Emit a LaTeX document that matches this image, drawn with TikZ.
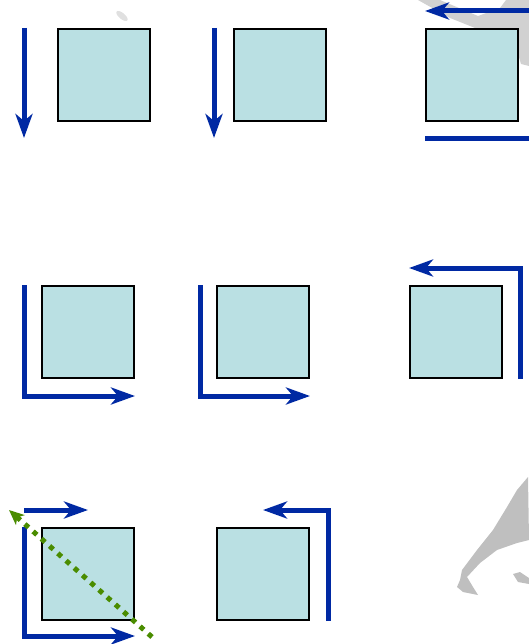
\documentclass[tikz,border=0pt]{standalone}
\usepackage{xcolor}
\usetikzlibrary{arrows.meta,positioning}

\definecolor{cellfill}{HTML}{BAE0E3}
\definecolor{flowblue}{HTML}{0029A3}
\definecolor{diaggreen}{HTML}{4A8C00}

\begin{document}
\begin{tikzpicture}[
        x=1pt, y=-1pt,
        cell/.style={rectangle, draw=black, line width=2.2pt, fill=cellfill, minimum size=92pt, inner sep=0pt, outer sep=1pt},
        flow/.style={draw=flowblue, line width=5pt, -{Stealth[length=24pt, width=17pt, inset=7pt]}},
        bar/.style={draw=flowblue, line width=5pt},
        diag/.style={draw=diaggreen, line width=5pt, dash pattern=on 5pt off 6pt, -{Stealth[length=15pt, width=13pt, inset=4pt]}},
        smudge/.style={fill=black!25, draw=none}
    ]
        \useasboundingbox (0,0) rectangle (529,644);

        % Background smudges
        \path[smudge, fill=black!18] (418,0) -- (440,0) -- (478,16) -- (500,8) -- (506,0) -- (529,0) -- (529,66)
            -- (521,64) -- (515,44) -- (500,30) -- (480,30) -- (450,18) -- cycle;
        \path[smudge] (528,477) -- (517,490) -- (507,507) -- (493,530) -- (477,550) -- (462,570)
            -- (460,580) -- (457,587) -- (463,592) -- (478,595) -- (473,587) -- (467,577)
            -- (480,563) -- (497,550) -- (517,543) -- (529,540) -- cycle;
        \path[smudge] (513,574) -- (520,572) -- (529,578) -- (529,584) -- (518,582) -- cycle;
        \path[fill=black!12] (122,16) ellipse [x radius=7pt, y radius=3pt, rotate=-40];

        % Squares
        \node[cell] (s1) at (104,75) {};
        \node[cell, right=82pt of s1] (s2) {};
        \node[cell, right=98pt of s2] (s3) {};

        \node[cell] (s4) at (88,332) {};
        \node[cell, right=81pt of s4] (s5) {};
        \node[cell, right=99pt of s5] (s6) {};

        \node[cell, below=148pt of s4] (s7) {};
        \node[cell, below=148pt of s5] (s8) {};

        % First row
        \draw[flow] ([xshift=-33pt]s1.north west) -- ([xshift=-33pt, yshift=-16pt]s1.south west);
        \draw[flow] ([xshift=-19pt]s2.north west) -- ([xshift=-19pt, yshift=-16pt]s2.south west);
        \draw[flow] ([xshift=10pt, yshift=17pt]s3.north east) -- ([yshift=17pt]s3.north west);
        \draw[bar] ([yshift=-17pt]s3.south west) -- ([xshift=10pt, yshift=-17pt]s3.south east);

        % Second row
        \draw[flow] ([xshift=-17pt]s4.north west) |- ([yshift=-17pt]s4.south east);
        \draw[flow] ([xshift=-16pt]s5.north west) |- ([yshift=-17pt]s5.south east);
        \draw[flow] ([xshift=17pt]s6.south east) |- ([yshift=17pt]s6.north west);

        % Third row
        \draw[flow] ([xshift=-17pt, yshift=17pt]s7.north west) -- ([yshift=17pt]s7.north);
        \draw[flow] ([xshift=-17pt]s7.north west) |- ([yshift=-15pt]s7.south east);
        \draw[flow] ([xshift=18pt]s8.south east) |- ([yshift=17pt]s8.north);
        \draw[diag] ([xshift=17pt, yshift=-16pt]s7.south east) -- ([xshift=-32pt, yshift=17pt]s7.north west);

    \end{tikzpicture}
\end{document}
